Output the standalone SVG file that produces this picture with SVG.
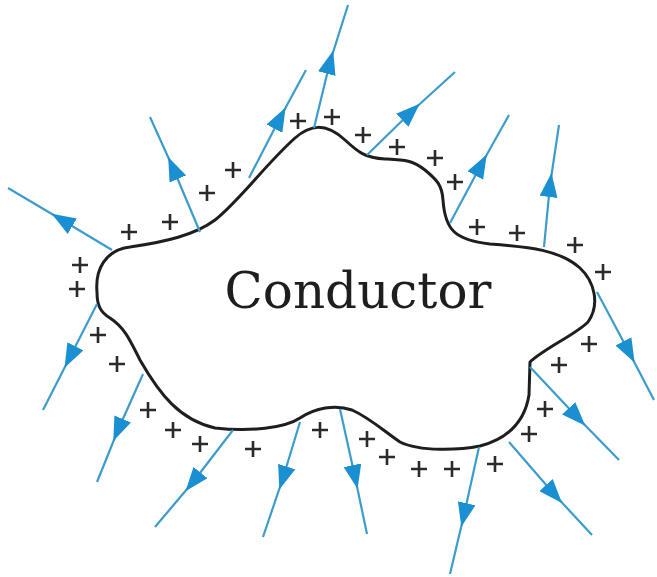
<svg xmlns="http://www.w3.org/2000/svg" width="657" height="577" viewBox="0 0 657 577">
  <style>
    .outline { fill: #ffffff; stroke: #1e1e1e; stroke-width: 3; stroke-linejoin: round; }
    .label { font-family: "DejaVu Serif", "Liberation Serif", serif; font-size: 50px; fill: #1e1e1e; }
    .field { fill: none; stroke: #3d9ccc; stroke-width: 2.2; marker-mid: url(#arrow); }
    .plus { fill: none; stroke: #2a2a2a; stroke-width: 2.6; }
  </style>
  <defs>
    <marker id="arrow" markerUnits="userSpaceOnUse" markerWidth="24" markerHeight="18" viewBox="0 0 24 18" refX="12" refY="9" orient="auto">
      <path d="M0,0 L24,9 L0,18 Z" fill="#1a8fd2"/>
    </marker>
    <path id="p" d="M-8,0 H8 M0,-8 V8"/>
  </defs>
  <rect width="657" height="577" fill="#ffffff"/>

  <g id="conductor">
    <path class="outline" d="M 97,292 C 95,270 105,250 130,247 C 165,242 195,235 215,220 C 240,200 265,165 295,138 C 310,125 325,122 345,140 C 358,152 365,158 385,159 C 405,160 412,160 425,170 C 437,180 442,185 443,200 C 445,230 455,240 490,244 C 530,247 560,250 580,268 C 595,282 600,305 588,322 C 575,335 545,348 530,362 L 529,395 C 525,420 510,438 480,446 C 460,450 420,452 400,442 C 385,432 370,418 352,410 C 335,404 315,408 300,418 C 285,428 250,432 215,428 C 180,420 160,395 140,360 C 130,340 125,328 110,318 C 100,312 97,305 97,292 Z"/>
    <text class="label" x="358" y="308" text-anchor="middle">Conductor</text>
  </g>

  <g id="field-lines">
    <path class="field" d="M112,250 L62,220 L8,188"/>
    <path class="field" d="M200,232 L173,168 L150,117"/>
    <path class="field" d="M249,178 L280,118 L306,70"/>
    <path class="field" d="M314,128 L330,62 L348,5"/>
    <path class="field" d="M367,155 L411,112 L455,72"/>
    <path class="field" d="M450,223 L481,165 L509,115"/>
    <path class="field" d="M544,247 L550,185 L559,125"/>
    <path class="field" d="M597,292 L629,352 L654,400"/>
    <path class="field" d="M530,367 L577,417 L619,460"/>
    <path class="field" d="M509,442 L554,494 L592,535"/>
    <path class="field" d="M479,447 L464,515 L450,574"/>
    <path class="field" d="M340,409 L355,477 L367,534"/>
    <path class="field" d="M300,422 L283,478 L263,537"/>
    <path class="field" d="M233,430 L193,482 L155,527"/>
    <path class="field" d="M143,374 L118,430 L97,482"/>
    <path class="field" d="M97,304 L70,357 L43,410"/>
  </g>

  <g id="charges" class="plus">
    <use href="#p" x="80" y="265"/>
    <use href="#p" x="77" y="289"/>
    <use href="#p" x="129" y="232"/>
    <use href="#p" x="170" y="222"/>
    <use href="#p" x="207" y="193"/>
    <use href="#p" x="233" y="170"/>
    <use href="#p" x="298" y="121"/>
    <use href="#p" x="332" y="117"/>
    <use href="#p" x="363" y="135"/>
    <use href="#p" x="397" y="147"/>
    <use href="#p" x="435" y="158"/>
    <use href="#p" x="455" y="182"/>
    <use href="#p" x="477" y="227"/>
    <use href="#p" x="517" y="233"/>
    <use href="#p" x="575" y="245"/>
    <use href="#p" x="603" y="272"/>
    <use href="#p" x="589" y="344"/>
    <use href="#p" x="559" y="365"/>
    <use href="#p" x="545" y="409"/>
    <use href="#p" x="529" y="434"/>
    <use href="#p" x="495" y="464"/>
    <use href="#p" x="452" y="469"/>
    <use href="#p" x="419" y="469"/>
    <use href="#p" x="387" y="457"/>
    <use href="#p" x="367" y="439"/>
    <use href="#p" x="320" y="430"/>
    <use href="#p" x="253" y="449"/>
    <use href="#p" x="200" y="444"/>
    <use href="#p" x="173" y="430"/>
    <use href="#p" x="148" y="410"/>
    <use href="#p" x="117" y="364"/>
    <use href="#p" x="98" y="335"/>
  </g>
</svg>
